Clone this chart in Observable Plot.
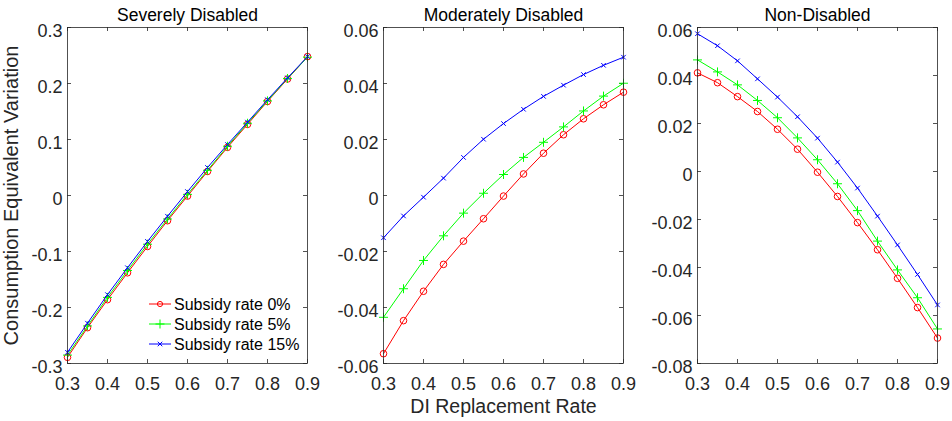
<!DOCTYPE html>
<html>
<head>
<meta charset="utf-8">
<script src="https://cdn.jsdelivr.net/npm/d3@7"></script>
<script src="https://cdn.jsdelivr.net/npm/@observablehq/plot@0.6"></script>
<style>
  html, body { margin: 0; padding: 0; background: #fff; }
  #chart { position: relative; width: 952px; height: 421px; font-family: "Liberation Sans", Arial, sans-serif; }
  #chart > svg { position: absolute; top: 0; }
</style>
</head>
<body>
<div id="chart"></div>
<script>
// ---- Data ----
const rates = [0.3, 0.35, 0.4, 0.45, 0.5, 0.55, 0.6, 0.65, 0.7, 0.75, 0.8, 0.85, 0.9];
const seriesNames = ["Subsidy rate 0%", "Subsidy rate 5%", "Subsidy rate 15%"];
const panelTitles = ["Severely Disabled", "Moderately Disabled", "Non-Disabled"];

const severe0  = [-0.289, -0.236, -0.186, -0.138, -0.091, -0.045, -0.001, 0.043, 0.086, 0.127, 0.168, 0.208, 0.248];
const severe5  = [-0.285, -0.233, -0.182, -0.134, -0.087, -0.042, 0.002, 0.045, 0.088, 0.129, 0.169, 0.209, 0.247];
const severe15 = [-0.280, -0.228, -0.177, -0.129, -0.082, -0.037, 0.007, 0.050, 0.091, 0.131, 0.171, 0.210, 0.248];

const moderate0  = [-0.0565, -0.0447, -0.0342, -0.0246, -0.0163, -0.0083, -0.0002, 0.0077, 0.0151, 0.0217, 0.0274, 0.0324, 0.0369];
const moderate5  = [-0.0435, -0.0333, -0.0232, -0.0144, -0.0063, 0.0008, 0.0075, 0.0136, 0.0190, 0.0245, 0.0302, 0.0355, 0.0401];
const moderate15 = [-0.0151, -0.0073, -0.0006, 0.0062, 0.0136, 0.0201, 0.0257, 0.0308, 0.0354, 0.0394, 0.0432, 0.0465, 0.0494];

const non0  = [0.0411, 0.0370, 0.0312, 0.0250, 0.0176, 0.0093, -0.0003, -0.0104, -0.0213, -0.0326, -0.0445, -0.0567, -0.0694];
const non5  = [0.0465, 0.0415, 0.0361, 0.0296, 0.0224, 0.0140, 0.0049, -0.0051, -0.0163, -0.0290, -0.0410, -0.0526, -0.0656];
const non15 = [0.0574, 0.0524, 0.0461, 0.0386, 0.0310, 0.0228, 0.0139, 0.0039, -0.0069, -0.0186, -0.0306, -0.0429, -0.0556];

const xTicks = [0.3, 0.4, 0.5, 0.6, 0.7, 0.8, 0.9];
const yTicksSevere = [-0.3, -0.2, -0.1, 0, 0.1, 0.2, 0.3];
const yTicksModerate = [-0.06, -0.04, -0.02, 0, 0.02, 0.04, 0.06];
const yTicksNon = [-0.08, -0.06, -0.04, -0.02, 0, 0.02, 0.04, 0.06];

const xLabel = "DI Replacement Rate";
const yLabel = "Consumption Equivalent Variation";

// ---- Styling ----
const ink = "#262626";
const colors = ["#ff0000", "#00ff00", "#0000ff"];
const symbols = ["circle", "plus", "times"];
const radii = [3.3, 3, 2.2];
const H = 421, mTop = 27, mBottom = 58, innerW = 240;
const innerH = H - mTop - mBottom;
const tickLen = 4;
const tickFont = 18;
const fmt = d => String(d);

function rows(seriesArrays) {
  const out = [];
  seriesArrays.forEach((arr, si) => arr.forEach((v, i) => out.push({x: rates[i], y: v, s: seriesNames[si]})));
  return out;
}

function makePanel({title, yTicks, series, left, marginLeft, extra = []}) {
  const data = rows(series);
  const width = marginLeft + innerW + 12;
  const marks = [
    // inward ticks on all four sides
    Plot.gridX(xTicks, {stroke: ink, strokeOpacity: 1, strokeWidth: 0.8, insetTop: innerH - tickLen}),
    Plot.gridX(xTicks, {stroke: ink, strokeOpacity: 1, strokeWidth: 0.8, insetBottom: innerH - tickLen}),
    Plot.gridY(yTicks, {stroke: ink, strokeOpacity: 1, strokeWidth: 0.8, insetRight: innerW - tickLen}),
    Plot.gridY(yTicks, {stroke: ink, strokeOpacity: 1, strokeWidth: 0.8, insetLeft: innerW - tickLen}),
    Plot.axisX(xTicks, {tickSize: 0, tickPadding: 13.5, fontSize: tickFont, fill: ink, tickFormat: fmt, label: null}),
    Plot.axisY(yTicks, {tickSize: 0, tickPadding: 5, fontSize: tickFont, fill: ink, tickFormat: fmt, dy: 3.5, label: null}),
  ];
  seriesNames.forEach((name, si) => {
    const d = data.filter(r => r.s === name);
    marks.push(Plot.line(d, {x: "x", y: "y", stroke: colors[si], strokeWidth: 1}));
    marks.push(Plot.dot(d, {x: "x", y: "y", stroke: colors[si], symbol: symbols[si], r: radii[si], strokeWidth: 1, fill: "none"}));
  });
  marks.push(Plot.frame({stroke: ink, strokeWidth: 0.8}));
  marks.push(Plot.text([title], {frameAnchor: "top", dy: -18.5, lineAnchor: "top", fontSize: 17.5, fill: "#000"}));
  marks.push(...extra);
  const svg = Plot.plot({
    width, height: H,
    marginLeft, marginRight: width - marginLeft - innerW, marginTop: mTop, marginBottom: mBottom,
    style: {fontFamily: "'Liberation Sans', Arial, sans-serif", background: "transparent", overflow: "visible"},
    x: {domain: [0.3, 0.9], axis: null},
    y: {domain: [yTicks[0], yTicks[yTicks.length - 1]], axis: null},
    marks
  });
  svg.style.left = left + "px";
  return svg;
}

const chart = document.getElementById("chart");

chart.appendChild(makePanel({
  title: panelTitles[0], yTicks: yTicksSevere, series: [severe0, severe5, severe15],
  left: 0, marginLeft: 67,
  extra: [Plot.text([yLabel], {frameAnchor: "left", dx: -56, rotate: -90, fontSize: 20, fill: ink, textAnchor: "middle", lineAnchor: "middle"})]
}));
chart.appendChild(makePanel({
  title: panelTitles[1], yTicks: yTicksModerate, series: [moderate0, moderate5, moderate15],
  left: 317, marginLeft: 66,
  extra: [Plot.text([xLabel], {frameAnchor: "bottom", dy: 36, lineAnchor: "top", fontSize: 19.5, fill: ink})]
}));
chart.appendChild(makePanel({
  title: panelTitles[2], yTicks: yTicksNon, series: [non0, non5, non15],
  left: 634, marginLeft: 63
}));

// ---- Legend (inside the first panel) ----
const leg = d3.select(chart).append("svg")
  .attr("width", 170).attr("height", 70)
  .style("left", "145px").style("top", "292px");
const symTypes = [d3.symbolCircle, d3.symbolPlus, d3.symbolTimes];
const legR = [2.6, 3, 2.2];
seriesNames.forEach((name, i) => {
  const g = leg.append("g").attr("transform", `translate(0,${12 + i * 20})`);
  g.append("line").attr("x1", 4).attr("x2", 26).attr("y1", 0).attr("y2", 0)
    .attr("stroke", colors[i]).attr("stroke-width", 1);
  g.append("path").attr("transform", "translate(15,0)")
    .attr("d", d3.symbol(symTypes[i], Math.PI * legR[i] * legR[i])())
    .attr("fill", "none").attr("stroke", colors[i]).attr("stroke-width", 1);
  g.append("text").attr("x", 29).attr("y", 0).attr("dy", "0.36em")
    .attr("font-size", 16).attr("fill", "#000")
    .attr("font-family", "'Liberation Sans', Arial, sans-serif")
    .text(name);
});
</script>
</body>
</html>
